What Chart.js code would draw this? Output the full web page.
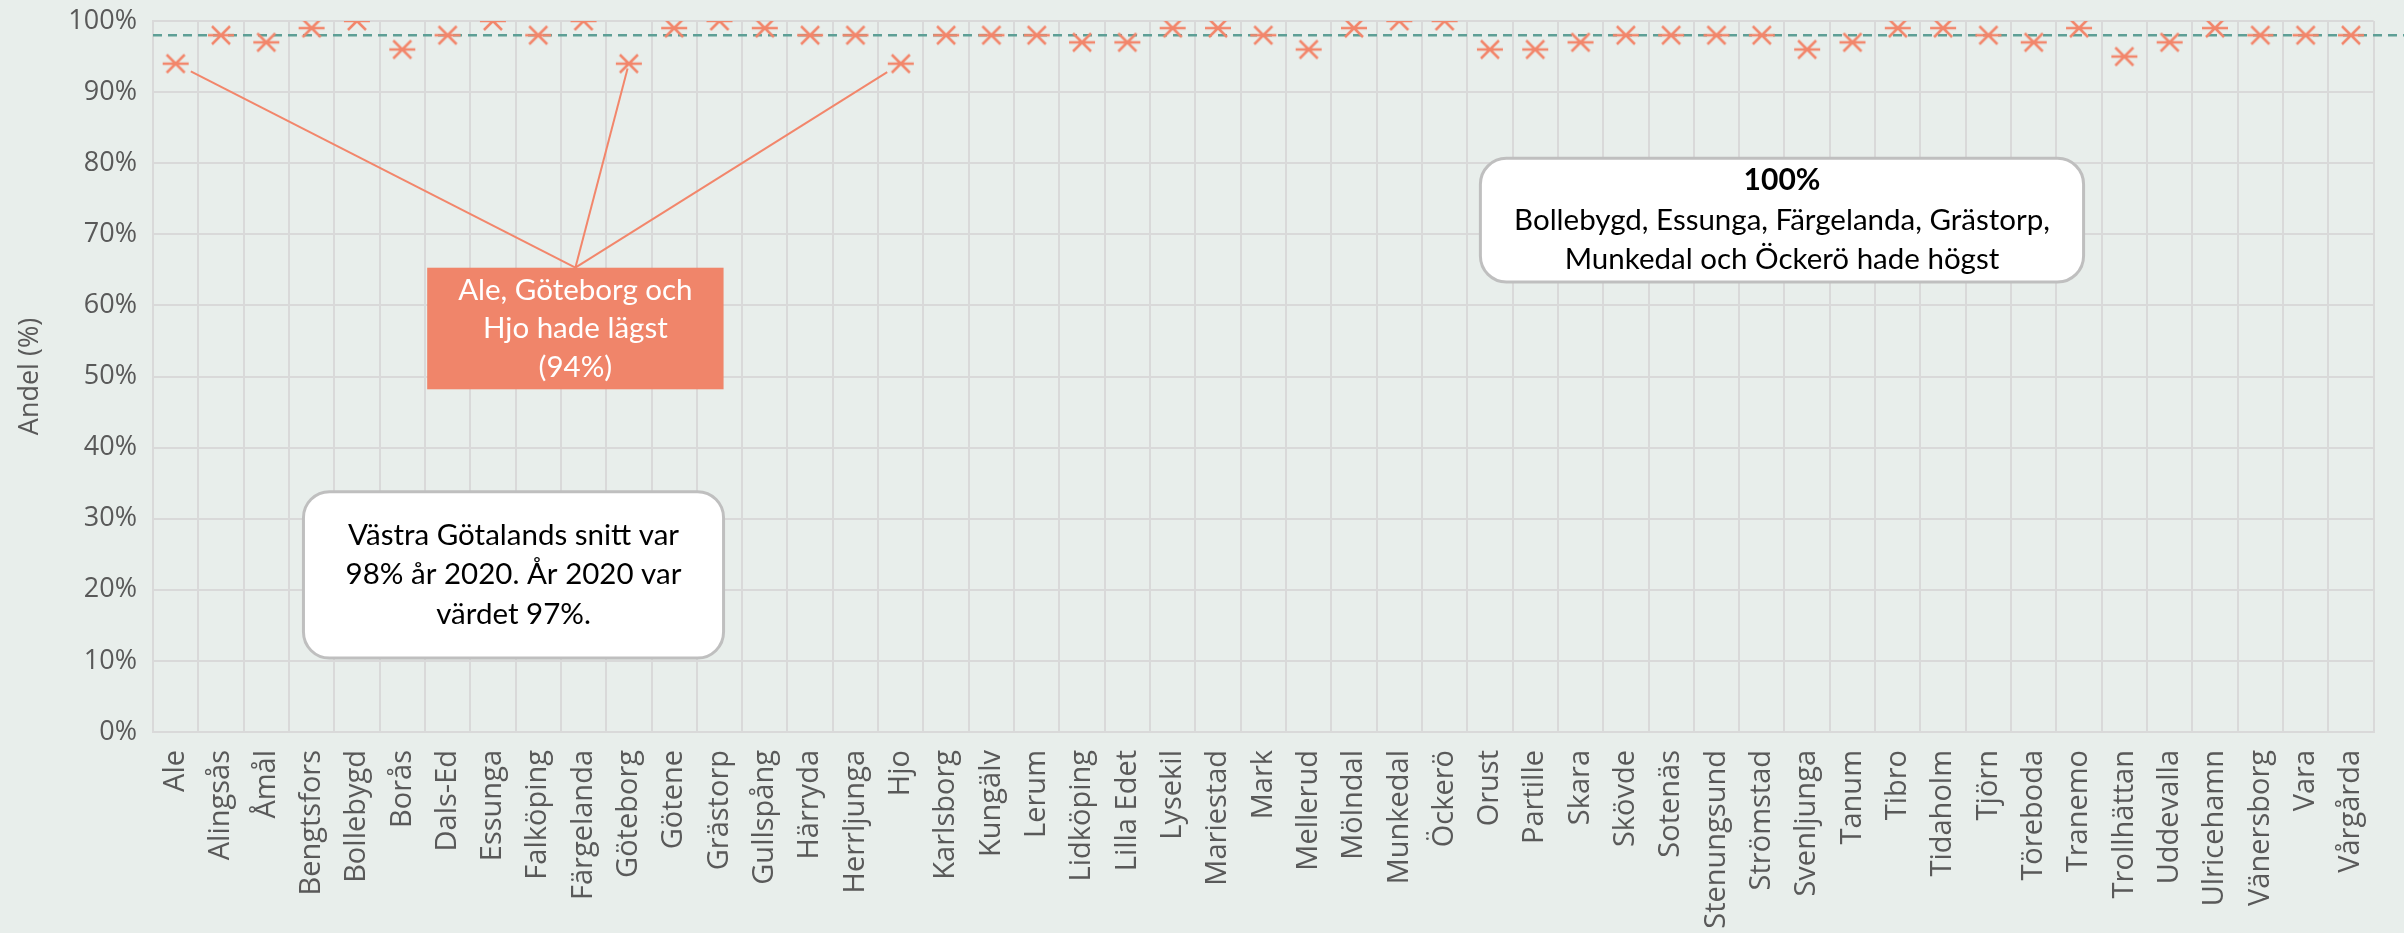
<!DOCTYPE html>
<html lang="sv">
<head>
  <meta charset="UTF-8" />
  <title>Andel per kommun</title>
  <script src="https://cdn.jsdelivr.net/npm/chart.js"></script>
  <style>
    html, body { margin: 0; padding: 0; background: #e8eeeb; }
    .chart-box { width: 2404px; height: 933px; }
  </style>
</head>
<body>
  <div class="chart-box"><canvas id="chartAndel" width="2404" height="933"></canvas></div>

  <script>
    // Kommuner och andel (%)
    const kommuner = ['Ale', 'Alingsås', 'Åmål', 'Bengtsfors', 'Bollebygd', 'Borås', 'Dals-Ed', 'Essunga',
      'Falköping', 'Färgelanda', 'Göteborg', 'Götene', 'Grästorp', 'Gullspång', 'Härryda', 'Herrljunga',
      'Hjo', 'Karlsborg', 'Kungälv', 'Lerum', 'Lidköping', 'Lilla Edet', 'Lysekil', 'Mariestad', 'Mark',
      'Mellerud', 'Mölndal', 'Munkedal', 'Öckerö', 'Orust', 'Partille', 'Skara', 'Skövde', 'Sotenäs',
      'Stenungsund', 'Strömstad', 'Svenljunga', 'Tanum', 'Tibro', 'Tidaholm', 'Tjörn', 'Töreboda',
      'Tranemo', 'Trollhättan', 'Uddevalla', 'Ulricehamn', 'Vänersborg', 'Vara', 'Vårgårda'];
    const andel = [94, 98, 97, 99, 100, 96, 98, 100,
      98, 100, 94, 99, 100, 99, 98, 98,
      94, 98, 98, 98, 97, 97, 99, 99, 98,
      96, 99, 100, 100, 96, 96, 97, 98, 98,
      98, 98, 96, 97, 99, 99, 98, 97,
      99, 95, 97, 99, 98, 98, 98];
    const snittRegion = 98;
    const lagstaKommuner = ['Ale', 'Göteborg', 'Hjo'];

    const textSnitt = ['Västra Götalands snitt var', '98% år 2020. År 2020 var', 'värdet 97%.'];
    const textLagst = ['Ale, Göteborg och', 'Hjo hade lägst', '(94%)'];
    const textHogst = ['100%', 'Bollebygd, Essunga, Färgelanda, Grästorp,', 'Munkedal och Öckerö hade högst'];

    const orange = '#f2866b';
    const gridFarg = '#d9d9d9';

    // markör som i Excel: kryss med vågrätt streck
    function skapaMarkor() {
      const c = document.createElement('canvas');
      c.width = 28; c.height = 22;
      const g = c.getContext('2d');
      g.strokeStyle = orange;
      g.lineWidth = 2.5;
      g.beginPath();
      g.moveTo(5, 2); g.lineTo(23, 20);
      g.moveTo(23, 2); g.lineTo(5, 20);
      g.moveTo(1, 11); g.lineTo(27, 11);
      g.stroke();
      return c;
    }

    function rundRuta(ctx, x0, y0, x1, y1, r) {
      ctx.beginPath();
      ctx.moveTo(x0 + r, y0);
      ctx.arcTo(x1, y0, x1, y1, r);
      ctx.arcTo(x1, y1, x0, y1, r);
      ctx.arcTo(x0, y1, x0, y0, r);
      ctx.arcTo(x0, y0, x1, y0, r);
      ctx.closePath();
    }

    function skrivRader(ctx, rader, cx, cy, radAvst, farg, fonter) {
      ctx.fillStyle = farg;
      ctx.textAlign = 'center';
      ctx.textBaseline = 'middle';
      const start = cy - (rader.length - 1) * radAvst / 2;
      rader.forEach((rad, i) => {
        ctx.font = fonter[i] || fonter[0];
        ctx.fillText(rad, cx, start + i * radAvst);
      });
    }

    // snittlinje (streckad) bakom markörerna
    const snittPlugin = {
      id: 'snittlinje',
      beforeDatasetsDraw(chart) {
        const { ctx, chartArea, scales: { y } } = chart;
        const yy = y.getPixelForValue(snittRegion);
        ctx.save();
        ctx.strokeStyle = '#5e9f96';
        ctx.lineWidth = 2.5;
        ctx.setLineDash([9, 6]);
        ctx.beginPath();
        ctx.moveTo(chartArea.left, yy);
        ctx.lineTo(chart.width, yy);
        ctx.stroke();
        ctx.restore();
      }
    };

    // textrutor och pekarlinjer
    const rutorPlugin = {
      id: 'rutor',
      afterDatasetsDraw(chart) {
        const { ctx, scales: { x, y } } = chart;
        const font = "29.5px Lato, 'Open Sans', sans-serif";
        ctx.save();

        // orange ruta, lägst
        const l0 = x.getPixelForValue(5.55), l1 = x.getPixelForValue(12.09);
        const t0 = y.getPixelForValue(65.3), t1 = y.getPixelForValue(48.2);
        const cx = (l0 + l1) / 2;
        const gap = [17, 5, 16];
        ctx.strokeStyle = orange;
        ctx.lineWidth = 2;
        lagstaKommuner.forEach((k, i) => {
          const idx = kommuner.indexOf(k);
          const mx = x.getPixelForValue(idx), my = y.getPixelForValue(andel[idx]);
          const dx = cx - mx, dy = t0 - my, d = Math.hypot(dx, dy);
          ctx.beginPath();
          ctx.moveTo(cx, t0);
          ctx.lineTo(mx + dx / d * gap[i], my + dy / d * gap[i]);
          ctx.stroke();
        });
        ctx.fillStyle = '#f0856a';
        ctx.fillRect(l0, t0, l1 - l0, t1 - t0);
        skrivRader(ctx, textLagst, cx, (t0 + t1) / 2, 38.5, '#ffffff', [font]);

        // vit ruta, snitt
        const s0 = x.getPixelForValue(2.82), s1 = x.getPixelForValue(12.09);
        const u0 = y.getPixelForValue(33.8), u1 = y.getPixelForValue(10.4);
        rundRuta(ctx, s0, u0, s1, u1, 26);
        ctx.fillStyle = '#ffffff';
        ctx.fill();
        ctx.strokeStyle = '#bfbfbf';
        ctx.lineWidth = 3;
        ctx.stroke();
        skrivRader(ctx, textSnitt, (s0 + s1) / 2, (u0 + u1) / 2, 39.5, '#000000', [font]);

        // vit ruta, högst
        const h0 = x.getPixelForValue(28.79), h1 = x.getPixelForValue(42.1);
        const v0 = y.getPixelForValue(80.7), v1 = y.getPixelForValue(63.3);
        rundRuta(ctx, h0, v0, h1, v1, 26);
        ctx.fillStyle = '#ffffff';
        ctx.fill();
        ctx.strokeStyle = '#bfbfbf';
        ctx.lineWidth = 3;
        ctx.stroke();
        skrivRader(ctx, textHogst, (h0 + h1) / 2, (v0 + v1) / 2, 39.5, '#000000',
          ["bold 30px Lato, 'Open Sans', sans-serif", font, font]);

        ctx.restore();
      }
    };

    Chart.defaults.font.family = "'Open Sans', sans-serif";
    Chart.defaults.color = '#595959';

    new Chart(document.getElementById('chartAndel'), {
      type: 'line',
      data: {
        labels: kommuner,
        datasets: [{
          label: 'Andel (%)',
          data: andel,
          showLine: false,
          pointStyle: skapaMarkor(),
          pointRadius: 11,
          pointHoverRadius: 11
        }]
      },
      options: {
        responsive: false,
        animation: false,
        layout: { padding: { top: 21, right: 24, left: 0, bottom: 0 } },
        plugins: {
          legend: { display: false },
          tooltip: { enabled: false }
        },
        scales: {
          x: {
            offset: true,
            grid: { offset: true, color: gridFarg, lineWidth: 2, drawTicks: false },
            border: { color: gridFarg, width: 2 },
            ticks: {
              autoSkip: false,
              minRotation: 90,
              maxRotation: 90,
              padding: 18,
              font: { size: 29 }
            },
            afterFit(scale) { scale.height = 201; }
          },
          y: {
            min: 0,
            max: 100,
            grid: { color: gridFarg, lineWidth: 2, drawTicks: false },
            border: { color: gridFarg, width: 2 },
            ticks: {
              stepSize: 10,
              padding: 16,
              font: { size: 27 },
              callback: v => v + '%'
            },
            title: {
              display: true,
              text: 'Andel (%)',
              font: { size: 27 },
              padding: { top: 14, bottom: 0 }
            },
            afterFit(scale) {
              scale.width = 153;
              scale.paddingTop = 0;
              scale.paddingBottom = 0;
            }
          }
        }
      },
      plugins: [snittPlugin, rutorPlugin]
    });
  </script>
</body>
</html>
